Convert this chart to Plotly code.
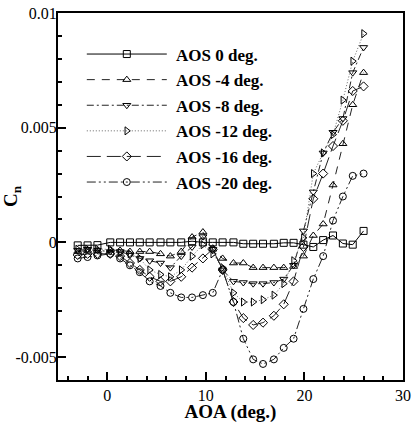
import plotly.graph_objects as go

AOA = [-3, -2, -1, 0.3, 1.3, 2.3, 3.3, 4.3, 5.4, 6.4, 7.5, 8.6, 9.7, 10.7, 11.7,
       12.8, 13.8, 14.8, 15.8, 16.9, 17.9, 18.9, 19.9, 20.9, 21.9, 22.9, 23.9, 24.9, 26.0]

cn_aos0 = [-0.00013, -0.00013, -0.00012, 0.0, 0.0, 0.0, 0.0, 0.0, 0.0, 0.0, 0.0, 0.00005,
           0.0, 0.0, 0.0, 0.0, -0.00006, -0.00006, -0.00006, -0.00006, -0.00002, -0.00002,
           -0.0001, -0.0002, 0.0001, 0.0003, -0.00005, -0.0001, 0.0005]
cn_aos4 = [-0.0004, -0.00035, -0.00035, -0.00035, -0.00035, -0.0004, -0.0004, -0.0004,
           -0.0005, -0.0006, -0.0004, 0.00023, 0.00045, -0.0003, -0.0007, -0.0009, -0.0009,
           -0.0011, -0.0011, -0.0011, -0.0011, -0.00105, -0.0006, 0.0003, 0.0008, 0.0025,
           0.0043, 0.006, 0.0074]
cn_aos8 = [-0.00035, -0.0003, -0.00035, -0.0004, -0.0004, -0.00055, -0.0007, -0.0008,
           -0.0009, -0.0011, -0.0006, -0.0002, 0.00025, -0.0003, -0.0012, -0.0017, -0.00175,
           -0.0018, -0.0018, -0.00175, -0.0016, -0.001, 0.0005, 0.0022, 0.0039, 0.0048,
           0.0054, 0.0074, 0.0085]
cn_aos12 = [-0.0003, -0.0003, -0.0003, -0.0003, -0.00045, -0.0005, -0.0007, -0.0012,
            -0.0014, -0.0015, -0.0012, -0.0006, -0.0001, -0.0005, -0.0011, -0.0022, -0.0026,
            -0.0026, -0.0025, -0.0023, -0.0018, -0.0008, 0.0002, 0.003, 0.0039, 0.0047,
            0.0062, 0.0079, 0.0091]
cn_aos16 = [-0.00055, -0.0005, -0.0005, -0.0005, -0.0006, -0.0009, -0.0012, -0.0015,
            -0.0017, -0.0017, -0.0015, -0.0011, -0.0007, -0.0003, -0.0012, -0.0026, -0.0033,
            -0.0036, -0.0035, -0.0032, -0.0027, -0.0017, -0.0002, 0.0019, 0.003, 0.0042,
            0.0053, 0.0066, 0.0068]
cn_aos20 = [-0.0007, -0.00064, -0.00057, -0.0005, -0.0007, -0.001, -0.0013, -0.0017,
            -0.0019, -0.0022, -0.0024, -0.0024, -0.0023, -0.0022, -0.0012, -0.0026, -0.0042,
            -0.0051, -0.0053, -0.0051, -0.0046, -0.0042, -0.0029, -0.0016, -0.0006, 0.00095,
            0.002, 0.0029, 0.003]

series_names = ["AOS 0 deg.", "AOS -4 deg.", "AOS -8 deg.", "AOS -12 deg.",
                "AOS -16 deg.", "AOS -20 deg."]
series_values = [cn_aos0, cn_aos4, cn_aos8, cn_aos12, cn_aos16, cn_aos20]
x_ticks = [0, 10, 20, 30]
y_ticks = [-0.005, 0, 0.005, 0.01]
y_tick_labels = ["-0.005", "0", "0.005", "0.01"]

styles = [
    ("solid", "square-open", "#000000"),
    ("8px,7px", "triangle-up-open", "#222222"),
    ("7px,3px,2px,3px", "triangle-down-open", "#222222"),
    ("1px,2px", "triangle-right-open", "#666666"),
    ("14px,6px", "diamond-open", "#222222"),
    ("9px,3px,2px,3px,2px,3px", "circle-open", "#222222"),
]

FONT = "Liberation Serif"
PAD = "\u00a0"

fig = go.Figure()
for i, (name, vals) in enumerate(zip(series_names, series_values)):
    dash, sym, col = styles[i]
    fig.add_trace(go.Scatter(
        x=AOA, y=vals, name=PAD + name, mode="lines+markers",
        legendgroup=f"g{i}",
        line=dict(color=col, width=1, dash=dash),
        marker=dict(symbol=sym, size=7, color="#000000", line=dict(width=1, color="#000000")),
    ))

axis_common = dict(
    showgrid=False, zeroline=False, showline=True, linecolor="black", linewidth=2,
    mirror=True, ticks="inside", ticklen=8, tickwidth=1.5, tickcolor="black",
    tickfont=dict(family=FONT, size=16, color="black"),
    automargin=False, ticklabeloverflow="allow",
)

fig.update_xaxes(
    range=[-5, 30], tickvals=x_ticks,
    minor=dict(ticks="inside", ticklen=4, tickcolor="black", dtick=2, tick0=0),
    title=dict(text="<b>AOA (deg.)</b>", font=dict(family=FONT, size=19, color="black"), standoff=9),
    **axis_common,
)
fig.update_yaxes(
    range=[-0.006, 0.01], tickvals=y_ticks, ticktext=y_tick_labels,
    minor=dict(ticks="inside", ticklen=4, tickcolor="black", dtick=0.001, tick0=0),
    ticklabelstandoff=-4,
    title=dict(text="<b>C<sub>n</sub></b>", font=dict(family=FONT, size=19, color="black"), standoff=7),
    **axis_common,
)

fig.update_layout(
    width=413, height=423,
    margin=dict(l=58, r=10, t=13, b=43),
    paper_bgcolor="white", plot_bgcolor="white",
    showlegend=True,
    legend=dict(
        x=0.069, y=0.936, xanchor="left", yanchor="top",
        bgcolor="rgba(0,0,0,0)", borderwidth=0,
        font=dict(family=FONT, size=17, color="black", weight="bold"),
        itemwidth=80, tracegroupgap=0.5,
    ),
)

# remove the browser's default 8px page margin so the figure fills the window exactly
fig.write_html("out.html", config={"displayModeBar": False},
               post_script="document.body.style.margin='0';")
